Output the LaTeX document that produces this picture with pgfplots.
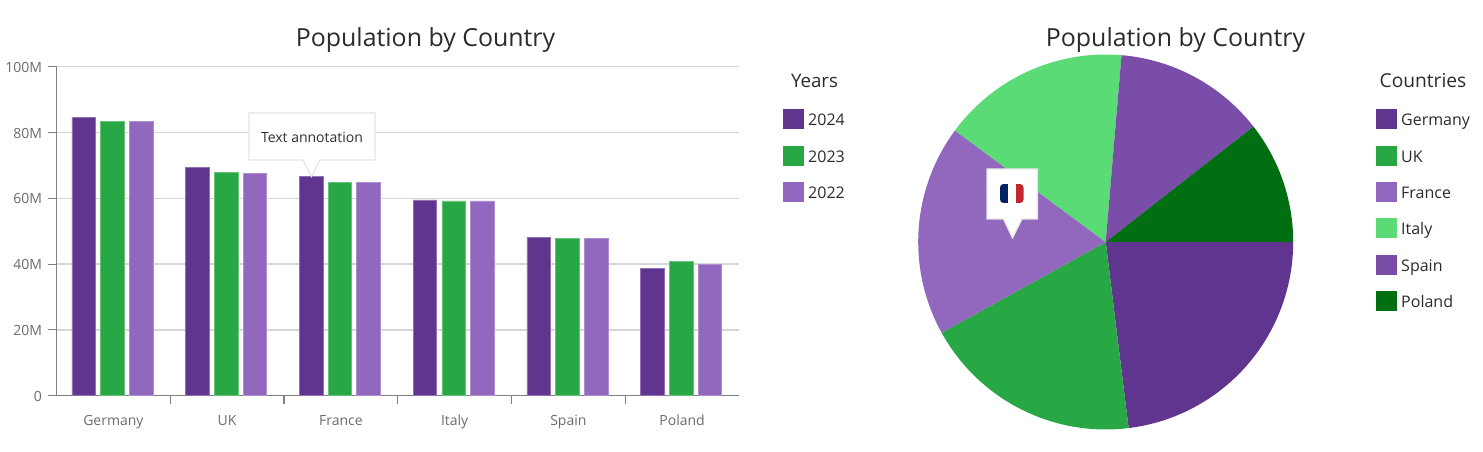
\documentclass[border=0pt]{standalone}
\usepackage{fontspec}
\setmainfont{Open Sans}
\usepackage{pgfplots}
\usepackage{pgfplotstable}
\pgfplotsset{compat=1.18}
\definecolor{cA}{HTML}{5F3590}
\definecolor{cB}{HTML}{28A745}
\definecolor{cC}{HTML}{9268BF}
\definecolor{cD}{HTML}{5ADB76}
\definecolor{cE}{HTML}{7A4DA8}
\definecolor{cF}{HTML}{006F12}
\definecolor{tickc}{HTML}{6B6B6B}
\definecolor{gridc}{HTML}{D6D6D6}
\definecolor{axisc}{HTML}{808080}
\definecolor{titlec}{HTML}{2B2B2B}
\definecolor{flagb}{HTML}{002366}
\definecolor{flagr}{HTML}{C1272D}
\pgfplotstableread{
x y2024 y2023 y2022
0 84.6 83.4 83.4
1 69.4 67.9 67.5
2 66.7 64.9 64.9
3 59.5 59.2 59.2
4 48.1 47.8 47.8
5 38.7 40.8 39.8
}\bars
\def\doslice#1#2#3{\addplot[fill=#1,draw=none,domain=#2:#3,samples=70,forget plot] ({187.5*cos(x)},{-187.5*sin(x)}) -- (axis cs:0,0) -- cycle;}
\def\pietotal{367.0}
\gdef\piestart{0}
\def\slice#1#2{%
  \pgfmathsetmacro\pieend{\piestart+#2/\pietotal*360}%
  \edef\tmp{\noexpand\doslice{#1}{\piestart}{\pieend}}\tmp
  \xdef\piestart{\pieend}}
\begin{document}
\begin{tikzpicture}
\path[use as bounding box] (0,0) rectangle (1483pt,452pt);
\begin{axis}[
  at={(56.5pt,56.3pt)},anchor=south west,scale only axis,
  width=682.5pt,height=329pt,
  xmin=-0.5,xmax=5.5,ymin=0,ymax=100,
  axis x line=bottom,axis y line=left,
  axis line style={-,draw=axisc,line width=1.3pt},
  ytick={0,20,40,60,80,100},
  yticklabels={0,20M,40M,60M,80M,100M},
  xtick={0,1,2,3,4,5},
  xticklabels={Germany,UK,France,Italy,Spain,Poland},
  minor xtick={0.5,1.5,2.5,3.5,4.5},
  ymajorgrids,
  grid style={draw=gridc,line width=1.5pt},
  major x tick style={draw=none},
  minor x tick style={draw=axisc,line width=1.1pt},
  y tick style={draw=axisc,line width=1.1pt},
  tick align=outside,major tick length=8pt,minor tick length=8pt,
  tick label style={font=\fontsize{14}{16}\selectfont,text=tickc},
  xticklabel style={yshift=-8pt},
  yticklabel style={xshift=-3pt,yshift=-0.6pt},
  ybar=5.1pt,bar width=23.6pt,
  every axis plot/.append style={line width=0.8pt,xshift=-0.9pt},
]
\addplot[fill=cA,draw=cA!70!white] table[x=x,y=y2024]{\bars};
\addplot[fill=cB,draw=cB!70!white] table[x=x,y=y2023]{\bars};
\addplot[fill=cC,draw=cC!75!white] table[x=x,y=y2022]{\bars};
\end{axis}
\begin{axis}[
  at={(1105.7pt,210pt)},anchor=center,scale only axis,
  width=376pt,height=376pt,
  xmin=-188,xmax=188,ymin=-188,ymax=188,
  hide axis,clip=false,
]
\slice{cA}{84.6}
\slice{cB}{69.4}
\slice{cC}{66.7}
\slice{cD}{59.5}
\slice{cE}{48.1}
\slice{cF}{38.7}
\end{axis}
\begin{scope}[x=1pt,y=-1pt,yshift=452pt]
\node[text=titlec,font=\fontsize{24.9}{28}\selectfont,anchor=base] at (425.5,47) {Population by Country};
\node[text=titlec,font=\fontsize{24.9}{28}\selectfont,anchor=base] at (1175.5,47) {Population by Country};
% left callout
\draw[draw=black!10,line width=1.2pt,fill=white] (249,113) -- (375,113) -- (375,160) -- (320,160) -- (311.5,176.5) -- (303,160) -- (249,160) -- cycle;
\node[text=titlec!85!cA,font=\fontsize{14}{16}\selectfont] at (312,137) {Text annotation};
% right callout
\draw[draw=black!10,line width=1.2pt,fill=white] (987,169) -- (1037.5,169) -- (1037.5,219) -- (1022,219) -- (1012.5,238) -- (1003.5,219) -- (987,219) -- cycle;
\begin{scope}
\clip[rounded corners=3.5pt] (1000,184) rectangle (1023.5,203);
\fill[flagb] (1000,184) rectangle (1008,203);
\fill[white] (1008,184) rectangle (1015.5,203);
\fill[flagr] (1015.5,184) rectangle (1023.5,203);
\end{scope}
% left legend
\node[text=titlec,font=\fontsize{18.7}{22}\selectfont,anchor=base] at (814.5,87.5) {Years};
\foreach \yy/\cc/\lab in {109/cA/2024,146/cB/2023,182/cC/2022}{
  \fill[\cc] (783,\yy) rectangle (803.5,\yy+20.5);
  \node[anchor=base west,inner sep=0pt,text=titlec,font=\fontsize{16}{19}\selectfont] at (808,\yy+16.5) {\lab};
}
% right legend
\node[text=titlec,font=\fontsize{19.2}{22}\selectfont,anchor=base] at (1423,87.5) {Countries};
\foreach \yy/\cc/\lab in {109/cA/Germany,146/cB/UK,182/cC/France,218/cD/Italy,255/cE/Spain,291/cF/Poland}{
  \fill[\cc] (1376,\yy) rectangle (1396.5,\yy+20.5);
  \node[anchor=base west,inner sep=0pt,text=titlec,font=\fontsize{16}{19}\selectfont] at (1401,\yy+16.5) {\lab};
}
\end{scope}
\end{tikzpicture}
\end{document}
